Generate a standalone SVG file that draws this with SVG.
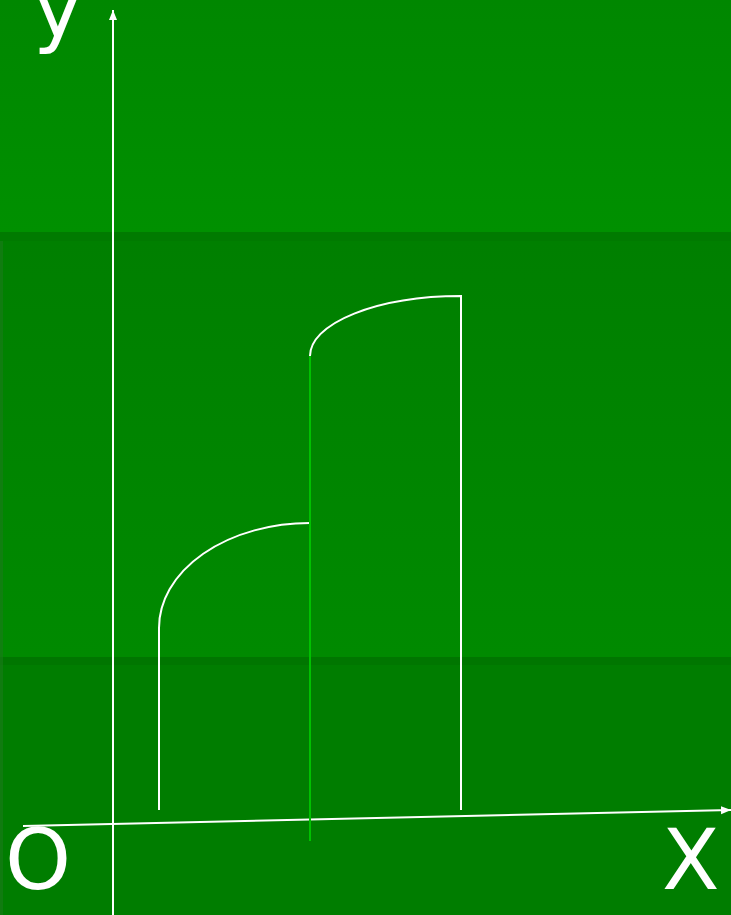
<svg xmlns="http://www.w3.org/2000/svg" width="731" height="915" viewBox="0 0 731 915">
<defs>
<linearGradient id="g1" x1="0" y1="0" x2="0" y2="1"><stop offset="0" stop-color="#008700"/><stop offset="1" stop-color="#009000"/></linearGradient>
<linearGradient id="g2" x1="0" y1="0" x2="0" y2="1"><stop offset="0" stop-color="#007f00"/><stop offset="1" stop-color="#008a00"/></linearGradient>
<marker id="ah" viewBox="0 0 10 10" refX="10" refY="5" markerWidth="10" markerHeight="10" markerUnits="userSpaceOnUse" orient="auto"><path d="M0,1 L10,5 L0,9 Z" fill="#fff"/></marker>
</defs>
<style>
.ax{stroke:#fff;stroke-width:2;fill:none}
.cv{stroke:#fff;stroke-width:2;fill:none}
.lbl{font-family:"DejaVu Sans",sans-serif;font-size:84px;fill:#fff}
</style>
<g id="background">
<rect x="0" y="0" width="731" height="232" fill="url(#g1)"/>
<rect x="0" y="232" width="731" height="9" fill="#007a00"/>
<rect x="0" y="241" width="731" height="416" fill="url(#g2)"/>
<rect x="0" y="657" width="731" height="8" fill="#007600"/>
<rect x="0" y="665" width="731" height="250" fill="#007d00"/>
<rect x="0" y="241" width="3" height="674" fill="#1a7a1a" opacity="0.6"/>
</g>
<g id="connectors">
<line class="ax" x1="113" y1="915" x2="113" y2="10" marker-end="url(#ah)"/>
<line class="ax" x1="23" y1="826" x2="731" y2="810" marker-end="url(#ah)"/>
</g>
<g id="curve-left">
<path class="cv" d="M159,810 L159,628 A151,105 0 0 1 310,523"/>
</g>
<g id="green-line">
<line x1="310" y1="356" x2="310" y2="841" stroke="#00c000" stroke-width="2"/>
</g>
<g id="curve-right">
<path class="cv" d="M310,356 A151,60 0 0 1 461,296 L461,810"/>
</g>
<g id="labels">
<text class="lbl" x="33" y="37">y</text>
<text class="lbl" x="5" y="889">O</text>
<text class="lbl" x="662" y="889">X</text>
</g>
</svg>
